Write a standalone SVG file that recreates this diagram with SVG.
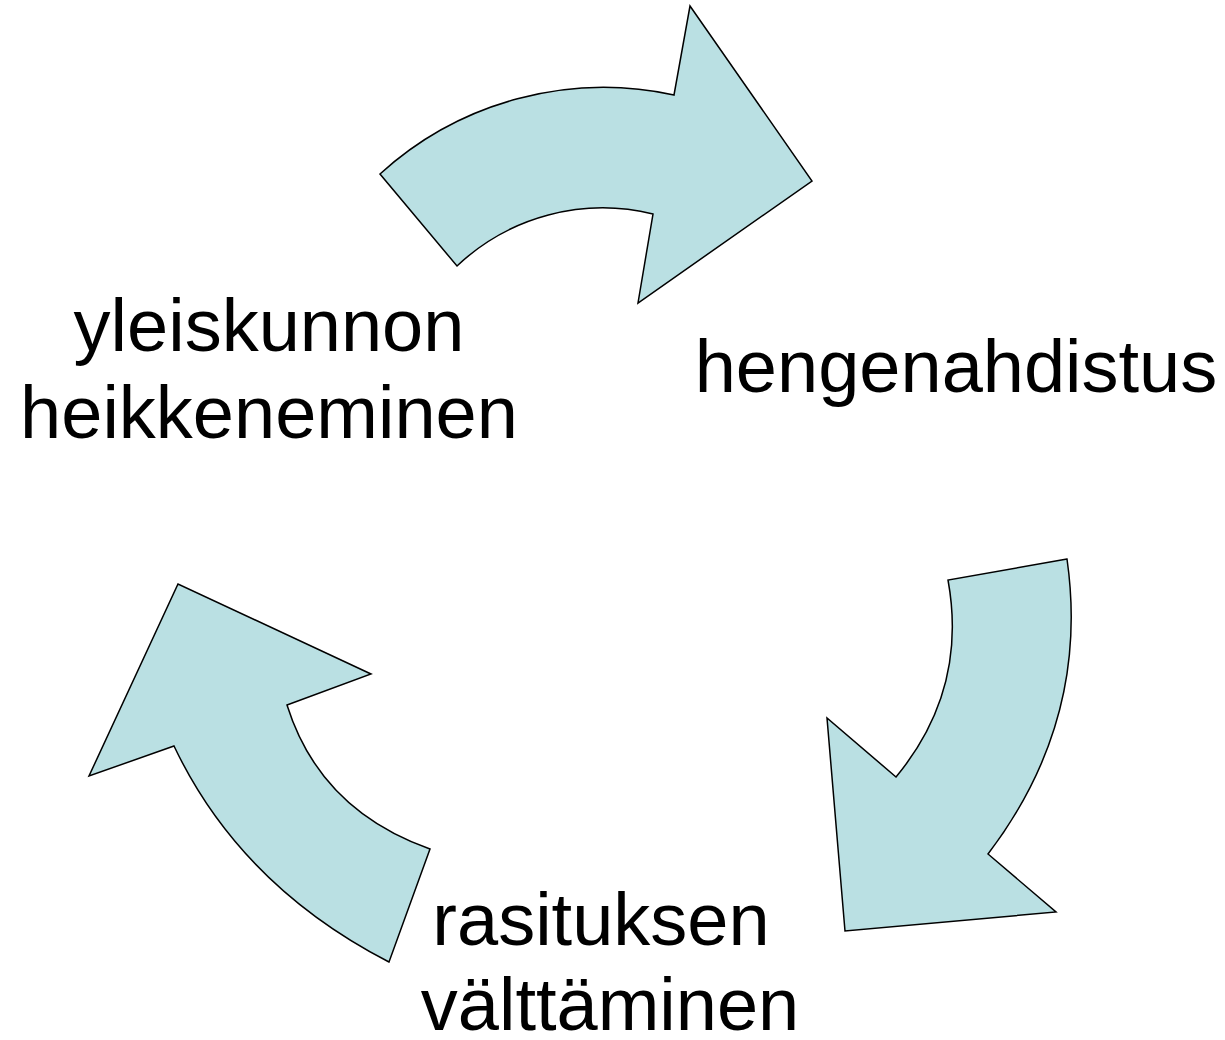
<svg xmlns="http://www.w3.org/2000/svg" width="1225" height="1040" viewBox="0 0 1225 1040">
<style>
.arrow{fill:#bae0e3;stroke:#000;stroke-width:1.5;stroke-linejoin:miter}
.lbl{font-family:"Liberation Sans",Arial,sans-serif;font-size:74px;fill:#000;text-anchor:middle}
</style>
<rect width="1225" height="1040" fill="#fff"/>
<g id="connectors">
<path id="arrow-top" class="arrow" d="M380,174 A332,332 0 0 1 674,95 L690,6 L812,181 L638,303 L653,214 A212,212 0 0 0 457,266 Z"/>
<path id="arrow-right" class="arrow" d="M1067,559 L948,580 Q968,690 896,777 L827,718 L845,931 L1056,912 L988,854 Q1090,720 1067,559 Z"/>
<path id="arrow-left" class="arrow" d="M430,849 L389,962 Q240,885 174,746 L89,776 L178,584 L371,674 L287,705 Q320,810 430,849 Z"/>
</g>
<g id="node-yleiskunnon">
<text class="lbl" x="269" y="351">yleiskunnon</text>
<text class="lbl" x="269" y="438">heikkeneminen</text>
</g>
<g id="node-hengenahdistus">
<text class="lbl" x="956" y="392">hengenahdistus</text>
</g>
<g id="node-rasituksen">
<text class="lbl" x="601" y="945">rasituksen</text>
<text class="lbl" x="610" y="1030">välttäminen</text>
</g>
</svg>
